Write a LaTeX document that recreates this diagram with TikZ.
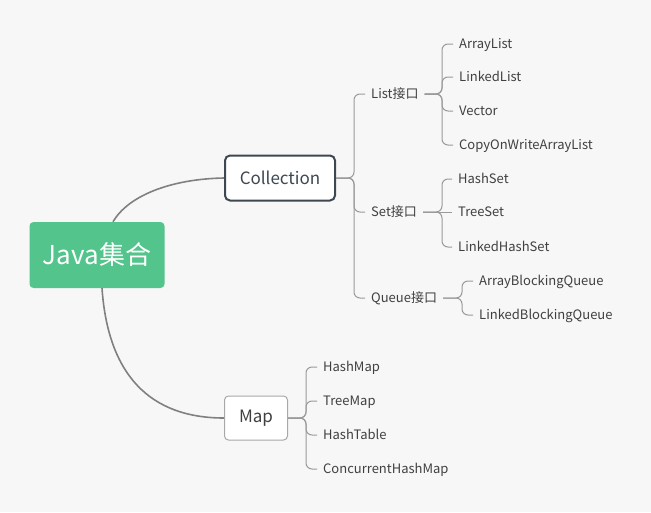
\documentclass[tikz,border=0pt]{standalone}
\usepackage{fontspec}
\setmainfont{Noto Sans CJK SC}
\usetikzlibrary{calc}
\definecolor{rootgreen}{HTML}{52C48C}
\definecolor{bggray}{HTML}{F7F7F7}
\definecolor{linkgray}{HTML}{808080}
\definecolor{branchgray}{HTML}{9A9A9A}
\definecolor{txtgray}{HTML}{404040}
\definecolor{boxdark}{HTML}{3D4852}
\definecolor{boxlight}{HTML}{A8A8A8}

\tikzset{
	rootbox/.style={fill=rootgreen, rounded corners=4pt, minimum width=135pt, minimum height=66pt, text=white, font=\fontsize{26}{30}\selectfont},
	topbox/.style={fill=white, rounded corners=5pt, minimum height=45pt, text=txtgray, font=\fontsize{17}{20}\selectfont},
	leaf/.style={anchor=west, inner xsep=6pt, inner ysep=2pt, text height=11pt, text depth=2pt, text=txtgray, font=\fontsize{13}{15}\selectfont},
	branch/.style={draw=branchgray, line width=1pt, rounded corners=6pt},
	mainlink/.style={draw=linkgray, line width=1.6pt}
}

\begin{document}
\begin{tikzpicture}[x=1pt, y=-1pt]
			%%%%% START %%%%%
			
			\fill[bggray] (0, 0) rectangle (651, 512);
			\useasboundingbox (0, 0) rectangle (651, 512);
			
			\node[rootbox] (root) at (97, 255) {Java集合};
			\node[topbox, draw=boxdark, line width=2pt, minimum width=110pt, text=boxdark] (coll) at (280, 178) {Collection};
			\node[topbox, draw=boxlight, line width=1pt, minimum width=63pt, minimum height=44pt, rounded corners=4pt] (map) at (256, 418) {Map};
			
			\draw[mainlink] ([xshift=16pt]root.north) .. controls (128, 196) and (170, 179) .. (coll.west);
			\draw[mainlink] ([xshift=5pt]root.south) .. controls (108, 375) and (150, 418) .. (map.west);
			
			\node[leaf] (list) at (365, 94) {List接口};
			\node[leaf] (set) at (365, 212) {Set接口};
			\node[leaf] (queue) at (365, 298) {Queue接口};
			\coordinate (cbr) at (354, 178);
			\draw[branch] (coll.east) -- (cbr) |- (list.west);
			\draw[branch] (coll.east) -- (cbr) |- (set.west);
			\draw[branch] (coll.east) -- (cbr) |- (queue.west);
			
			\node[leaf] (alist) at (453, 44) {ArrayList};
			\node[leaf] (llist) at (453, 77) {LinkedList};
			\node[leaf] (vec) at (453, 111) {Vector};
			\node[leaf] (cow) at (453, 145) {CopyOnWriteArrayList};
			\coordinate (lbr) at (442, 94);
			\draw[branch] (list.east) -- (lbr) |- (alist.west);
			\draw[branch] (list.east) -- (lbr) |- (llist.west);
			\draw[branch] (list.east) -- (lbr) |- (vec.west);
			\draw[branch] (list.east) -- (lbr) |- (cow.west);
			
			\node[leaf] (hset) at (452, 179) {HashSet};
			\node[leaf] (tset) at (452, 212) {TreeSet};
			\node[leaf] (lhset) at (452, 247) {LinkedHashSet};
			\coordinate (sbr) at (442, 212);
			\draw[branch] (set.east) -- (sbr) |- (hset.west);
			\draw[branch] (set.east) -- (tset.west);
			\draw[branch] (set.east) -- (sbr) |- (lhset.west);
			
			\node[leaf] (abq) at (473, 281) {ArrayBlockingQueue};
			\node[leaf] (lbq) at (473, 315) {LinkedBlockingQueue};
			\coordinate (qbr) at (462, 298);
			\draw[branch] (queue.east) -- (qbr) |- (abq.west);
			\draw[branch] (queue.east) -- (qbr) |- (lbq.west);
			
			\node[leaf] (hmap) at (317, 367) {HashMap};
			\node[leaf] (tmap) at (317, 401) {TreeMap};
			\node[leaf] (htab) at (317, 435) {HashTable};
			\node[leaf] (chm) at (317, 469) {ConcurrentHashMap};
			\coordinate (mbr) at (306, 418);
			\draw[branch] (map.east) -- (mbr) |- (hmap.west);
			\draw[branch] (map.east) -- (mbr) |- (tmap.west);
			\draw[branch] (map.east) -- (mbr) |- (htab.west);
			\draw[branch] (map.east) -- (mbr) |- (chm.west);
			
			%%%%% END %%%%%
\end{tikzpicture}
\end{document}
